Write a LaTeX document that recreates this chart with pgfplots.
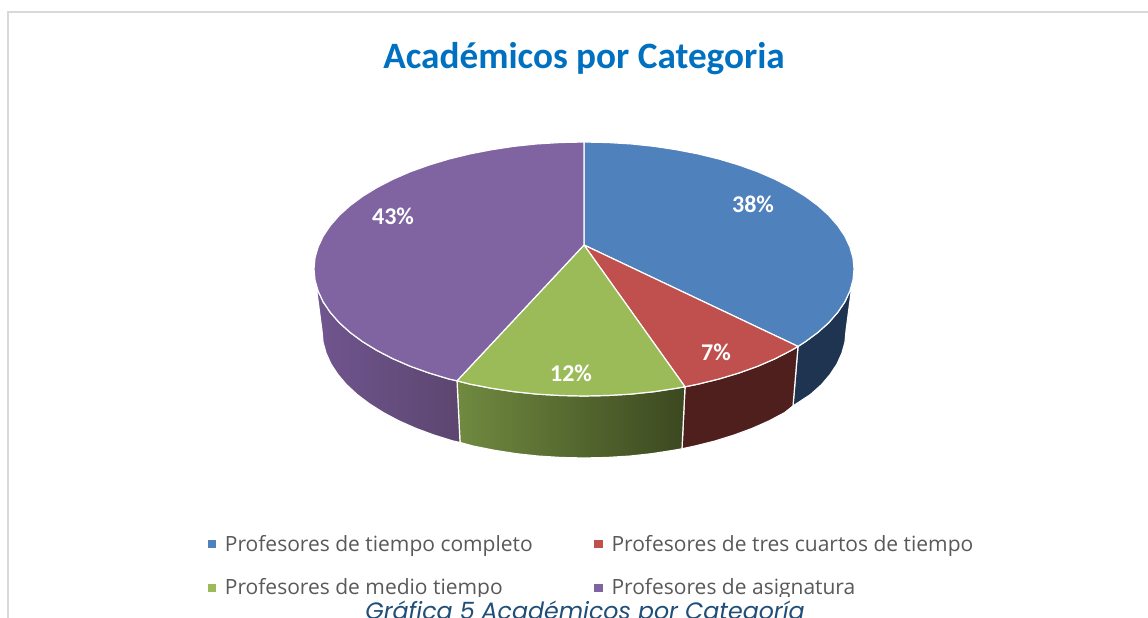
\documentclass[border=0pt]{standalone}
\usepackage{fontspec}
\setmainfont{Open Sans}
\newfontfamily\titlefont{Carlito}
\newfontfamily\capfont{Poppins}
\usepackage{pgfplots}
\pgfplotsset{compat=1.18}
\definecolor{cblue}{HTML}{4F81BD}
\definecolor{cred}{HTML}{C0504D}
\definecolor{cgreen}{HTML}{9BBB59}
\definecolor{cpurple}{HTML}{8064A2}
\definecolor{sblue}{HTML}{1E3450}
\definecolor{sred}{HTML}{4F1F1E}
\definecolor{sgreenL}{HTML}{708A40}
\definecolor{sgreenR}{HTML}{3C4820}
\definecolor{spurpleL}{HTML}{70558F}
\definecolor{spurpleR}{HTML}{5C466F}
\definecolor{titleblue}{HTML}{0070C0}
\definecolor{capblue}{HTML}{1F4E79}
\definecolor{legtext}{HTML}{595959}
\definecolor{frame}{HTML}{D9D9D9}

\begin{document}
\begin{tikzpicture}[x=1pt,y=1pt]
\clip (0,0) rectangle (1148,618);
\fill[white] (0,0) rectangle (1148,618);
\begin{axis}[
    at={(0,0)}, anchor=south west,
    width=1148pt, height=618pt, scale only axis,
    xmin=0, xmax=1148, ymin=0, ymax=618,
    y dir=reverse,
    hide axis,
    every axis plot/.append style={line join=round},
    legend image code/.code={\path (0pt,0pt) -- (14.5pt,0pt);\path[#1,draw=none] (0pt,-4.5pt) rectangle (8.5pt,4pt);},
    legend columns=2,
    legend cell align=left,
    legend style={
        at={(axis cs:204,531)}, anchor=north west,
        draw=none, fill=none,
        font=\fontsize{21}{25}\selectfont\color{legtext},
        row sep=22pt,
        /tikz/every even column/.append style={column sep=59pt},
    },
]
% side faces first (pixel coordinates)
\addplot[forget plot, fill=sblue, draw=white, line width=1.2pt] coordinates {
  (852,285) (849.9,291) (844.8,301.9) (837.7,312.4) (828.7,322.7) (817.8,332.5) (805.2,341.8) (798,346.4)
  (793,406) (810.5,394.5) (821.5,384.7) (830.2,374.4) (837.1,363.9) (842,353) (845,342.1) (846,331)
} -- cycle;
\addplot[forget plot, fill=sred, draw=white, line width=1.2pt] coordinates {
  (798,346.4) (790.8,350.6) (774.9,358.8) (757.6,366.3) (738.9,373) (719,379) (698.1,384.1) (685,386.8)
  (682,448.8) (694.7,446.1) (715,441) (734.3,435) (752.4,428.3) (769.3,420.8) (784.7,412.6) (793,406)
} -- cycle;
\addplot[forget plot, shade, left color=sgreenL, right color=sgreenR, draw=white, line width=1.2pt] coordinates {
  (685,386.8) (676.3,388.3) (653.9,391.7) (630.9,394.1) (607.5,395.5) (584,396) (560.5,395.5) (537.1,394.1)
  (514.1,391.7) (491.7,388.3) (469.9,384.1) (457,380.8)
  (460,442.5) (473.3,446.1) (494.4,450.3) (516.2,453.7) (538.5,456.1) (561.2,457.5) (584,458)
  (606.8,457.5) (629.5,456.1) (651.8,453.7) (673.6,450.3) (682,448.8)
} -- cycle;
\addplot[forget plot, shade, left color=spurpleL, right color=spurpleR, draw=white, line width=1.2pt] coordinates {
  (457,380.8) (449,379) (429.1,373) (410.4,366.3) (393.1,358.8) (377.2,350.6) (362.8,341.8) (350.2,332.5)
  (339.3,322.7) (330.3,312.4) (323.2,301.9) (318.1,291) (316,285)
  (322,331) (323,342.1) (326,353) (330.9,363.9) (337.8,374.4) (346.5,384.7) (357.1,394.5) (369.4,403.8)
  (383.3,412.6) (398.7,420.8) (415.6,428.3) (433.7,435) (453,441) (460,442.5)
} -- cycle;
% top faces, one per category
\addplot[fill=cblue, draw=white, line width=1.2pt] coordinates {
  (584,245) (584,142) (607.5,142.5) (630.9,143.9) (653.9,146.3) (676.3,149.7) (698.1,153.9) (719,159)
  (738.9,165) (757.6,171.7) (774.9,179.2) (790.8,187.4) (805.2,196.2) (817.8,205.5) (828.7,215.3)
  (837.7,225.6) (844.8,236.1) (849.9,247) (853,257.9) (854,269) (853,280.1) (849.9,291) (844.8,301.9)
  (837.7,312.4) (828.7,322.7) (817.8,332.5) (805.2,341.8) (798,346.4)
} -- cycle;
\addplot[fill=cred, draw=white, line width=1.2pt] coordinates {
  (584,245) (798,346.4) (790.8,350.6) (774.9,358.8) (757.6,366.3) (738.9,373) (719,379) (698.1,384.1) (685,386.8)
} -- cycle;
\addplot[fill=cgreen, draw=white, line width=1.2pt] coordinates {
  (584,245) (685,386.8) (676.3,388.3) (653.9,391.7) (630.9,394.1) (607.5,395.5) (584,396) (560.5,395.5)
  (537.1,394.1) (514.1,391.7) (491.7,388.3) (469.9,384.1) (457,380.8)
} -- cycle;
\addplot[fill=cpurple, draw=white, line width=1.2pt] coordinates {
  (584,245) (457,380.8) (449,379) (429.1,373) (410.4,366.3) (393.1,358.8) (377.2,350.6) (362.8,341.8)
  (350.2,332.5) (339.3,322.7) (330.3,312.4) (323.2,301.9) (318.1,291) (315,280.1) (314,269) (315,257.9)
  (318.1,247) (323.2,236.1) (330.3,225.6) (339.3,215.3) (350.2,205.5) (362.8,196.2) (377.2,187.4)
  (393.1,179.2) (410.4,171.7) (429.1,165) (449,159) (469.9,153.9) (491.7,149.7) (514.1,146.3)
  (537.1,143.9) (560.5,142.5) (584,142)
} -- cycle;
\legend{Profesores de tiempo completo, Profesores de tres cuartos de tiempo, Profesores de medio tiempo, Profesores de asignatura}
\node[white, font=\titlefont\bfseries\fontsize{24}{28}\selectfont] at (axis cs:753,204) {38\%};
\node[white, font=\titlefont\bfseries\fontsize{24}{28}\selectfont] at (axis cs:716,352) {7\%};
\node[white, font=\titlefont\bfseries\fontsize{24}{28}\selectfont] at (axis cs:571,373) {12\%};
\node[white, font=\titlefont\bfseries\fontsize{24}{28}\selectfont] at (axis cs:393,216) {43\%};
\node[titleblue, anchor=base, font=\titlefont\bfseries\fontsize{37.2}{42}\selectfont] at (axis cs:584,68.5) {Académicos por Categoria};
\end{axis}
% chart frame, and the page edge that cuts the legend off
\draw[frame, line width=2pt] (8,0) -- (8,606) -- (1148,606);
\fill[white] (12,0) rectangle (1148,21);
\node[capblue, anchor=base, font=\capfont\itshape\fontsize{23.7}{28}\selectfont] at (585,-2) {Gráfica 5 Académicos por Categoría};
\end{tikzpicture}
\end{document}
